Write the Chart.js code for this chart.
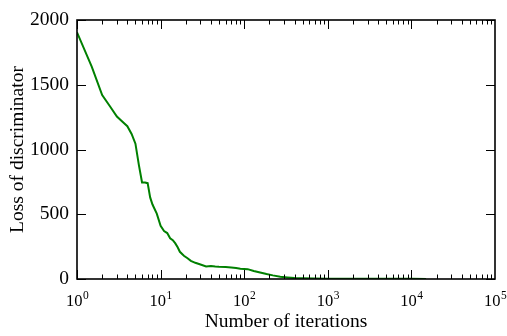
<!DOCTYPE html>
<html>
<head>
<meta charset="utf-8">
<script src="https://cdn.jsdelivr.net/npm/chart.js@4"></script>
<style>
  html, body { margin: 0; padding: 0; background: #fff; }
  #wrap { width: 507px; height: 336px; }
</style>
</head>
<body>
<div id="wrap"><canvas id="myChart"></canvas></div>
<script>
// data
const iterations = [1, 1.5, 2, 2.5, 3, 3.5, 4, 4.5, 5, 5.5, 6, 6.5, 7, 7.5, 8, 9, 10, 11, 12, 13, 14, 15, 16, 17, 19, 21, 23, 26, 30, 35, 40, 45, 50, 60, 70, 80, 90, 100, 110, 130, 155, 185, 220, 270, 330, 400, 500, 700, 1000, 2000, 5000, 10000, 15000];
const loss = [1905, 1640, 1420, 1330, 1255, 1215, 1180, 1120, 1045, 880, 745, 745, 740, 630, 575, 505, 410, 370, 355, 315, 300, 275, 245, 210, 180, 160, 140, 125, 112, 97, 100, 96, 94, 92, 88, 85, 80, 78, 76, 62, 50, 38, 28, 18, 12, 7, 5, 3, 2, 1.5, 1, 1, 0.5];
const xTickExps = [0, 1, 2, 3, 4, 5];
const yTicks = [0, 500, 1000, 1500, 2000];

const serif = "'Liberation Serif', 'Times New Roman', serif";

const points = iterations.map((v, i) => ({x: v, y: loss[i]}));

// matplotlib style frame, inward ticks, 10^n labels
const frame = {
  id: 'frame',
  afterDraw(chart) {
    const {ctx, chartArea: a, scales: {x, y}} = chart;
    ctx.save();
    ctx.strokeStyle = '#000';
    ctx.lineWidth = 1;
    ctx.beginPath();
    for (let e = xTickExps[0]; e < xTickExps[xTickExps.length - 1]; e++) {
      for (let k = 1; k < 10; k++) {
        const px = Math.round(x.getPixelForValue(k * Math.pow(10, e))) + 0.5;
        const len = k === 1 ? 9 : 4.5;
        ctx.moveTo(px, a.bottom); ctx.lineTo(px, a.bottom - len);
        ctx.moveTo(px, a.top); ctx.lineTo(px, a.top + len);
      }
    }
    yTicks.forEach(v => {
      const py = Math.round(y.getPixelForValue(v)) + 0.5;
      ctx.moveTo(a.left, py); ctx.lineTo(a.left + 9, py);
      ctx.moveTo(a.right, py); ctx.lineTo(a.right - 9, py);
    });
    ctx.stroke();

    ctx.lineWidth = 1.6;
    ctx.strokeRect(a.left, a.top, a.right - a.left, a.bottom - a.top);

    // x tick labels with superscript exponents
    ctx.fillStyle = '#000';
    ctx.textBaseline = 'alphabetic';
    ctx.textAlign = 'left';
    xTickExps.forEach(e => {
      const px = x.getPixelForValue(Math.pow(10, e));
      ctx.font = '16.5px ' + serif;
      const wb = ctx.measureText('10').width;
      ctx.font = '11.5px ' + serif;
      const ws = ctx.measureText(String(e)).width;
      const start = px - (wb + ws) / 2;
      ctx.font = '16.5px ' + serif;
      ctx.fillText('10', start, 306);
      ctx.font = '11.5px ' + serif;
      ctx.fillText(String(e), start + wb + 0.5, 299);
    });
    ctx.restore();
  }
};

const data = {
  datasets: [{
    label: 'loss',
    data: points,
    borderColor: '#008000',
    borderWidth: 2,
    pointRadius: 0,
    fill: false,
    tension: 0
  }]
};

const config = {
  type: 'line',
  data,
  options: {
    responsive: false,
    animation: false,
    layout: { padding: { top: 20, right: 12, left: 0, bottom: 0 } },
    plugins: { legend: { display: false }, tooltip: { enabled: false } },
    scales: {
      x: {
        type: 'logarithmic',
        min: 1,
        max: 100000,
        grid: { display: false, drawTicks: false },
        border: { display: false },
        ticks: { display: false },
        title: {
          display: true,
          text: 'Number of iterations',
          color: '#000',
          font: { family: serif, size: 19.5, lineHeight: 1.2 },
          padding: { top: 0, bottom: 2.6 }
        },
        afterFit(scale) { scale.height = 57; }
      },
      y: {
        min: 0,
        max: 2000,
        grid: { display: false, drawTicks: false },
        border: { display: false },
        ticks: {
          stepSize: 500,
          padding: 8,
          color: '#000',
          font: { family: serif, size: 19.5 },
          callback: v => String(v)
        },
        title: {
          display: true,
          text: 'Loss of discriminator',
          color: '#000',
          font: { family: serif, size: 19.5, lineHeight: 1.2 },
          padding: { top: 6, bottom: 0 }
        },
        afterFit(scale) { scale.width = 77; }
      }
    }
  },
  plugins: [frame]
};

const canvas = document.getElementById('myChart');
canvas.width = 507;
canvas.height = 336;
const myChart = new Chart(canvas, config);
</script>
</body>
</html>
